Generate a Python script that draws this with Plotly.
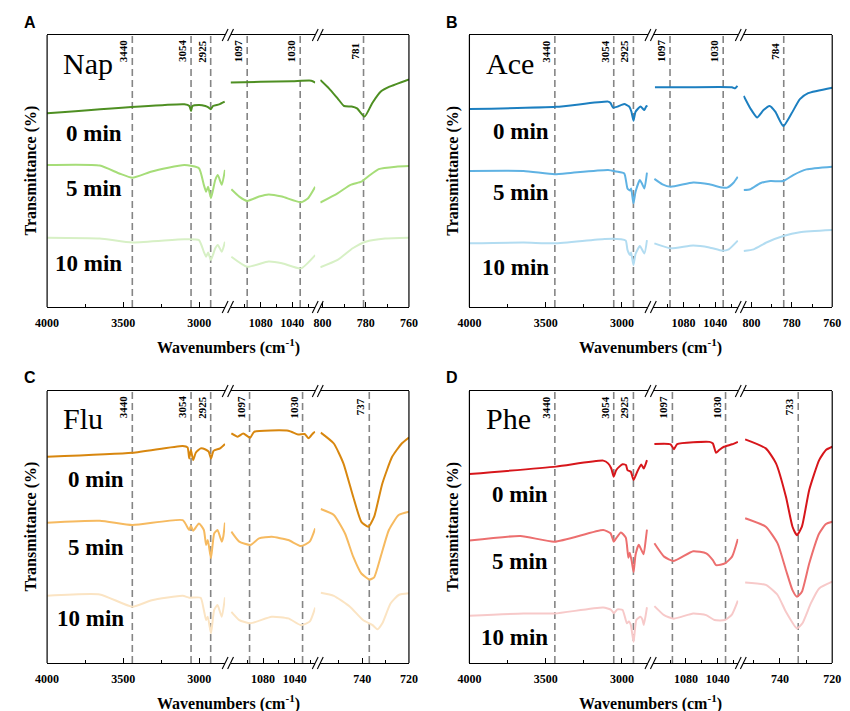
import plotly.graph_objects as go

# ---------------- FTIR spectra: wavenumber (cm-1) and offset transmittance ----------------
# Nap
NAP_WN_0 = [4000, 3098, 3065, 3054, 3045, 3000, 2960, 2940, 2925, 2910, 2870, 2833,
            1118, 1080, 1040, 1016, 1011,
            801, 797, 793, 790, 786.5, 784, 780.5, 777, 773, 769, 760]
NAP_T_0 = [71.2, 74.5, 73.9, 72.1, 73.9, 74.3, 73.9, 73.4, 72.7, 73.9, 74.5, 75.5,
           82.5, 82.8, 83.0, 83.2, 82.5,
           83.5, 80.4, 76.7, 73.9, 73.7, 73.0, 70.0, 74.9, 79.2, 81.0, 83.7]
NAP_WN_5 = [4000, 3654, 3526, 3440, 3312, 3098, 3002, 2970, 2955, 2942, 2923, 2895, 2878, 2852, 2831,
            1117, 1107, 1097, 1082, 1070, 1053, 1029, 1020, 1011,
            801, 793, 787, 782, 779, 774, 766, 760]
NAP_T_5 = [52.2, 52.0, 49.1, 47.5, 49.8, 52.2, 51.0, 44.9, 42.4, 44.2, 40.0, 46.7, 48.5, 44.9, 50.4,
           43.3, 40.6, 39.0, 40.6, 41.4, 40.6, 38.5, 40.0, 44.2,
           38.4, 41.8, 44.9, 46.1, 47.9, 50.7, 51.6, 51.8]
NAP_WN_10 = [4000, 3654, 3440, 3098, 3002, 2970, 2955, 2942, 2923, 2895, 2878, 2852, 2831,
             1117, 1097, 1070, 1053, 1029, 1011,
             801, 793, 786, 780, 771, 760]
NAP_T_10 = [25.5, 25.2, 23.7, 24.9, 24.6, 20.3, 18.5, 20.0, 17.3, 21.6, 22.8, 20.3, 24.0,
            18.5, 14.8, 16.7, 16.1, 14.2, 19.1,
            14.6, 17.3, 21.6, 24.0, 25.2, 25.5]

# Ace
ACE_WN_0 = [4000, 3432, 3091, 3075, 3059, 3027, 2985, 2953, 2938, 2925, 2911, 2879, 2853, 2840, 2834,
            1116, 1096, 1076, 1019, 1015, 1012,
            803.8, 800.5, 797.2, 794, 791, 788.2, 784.2, 780.1, 776, 771.9, 760]
ACE_T_0 = [72.8, 73.6, 75.5, 75.0, 73.3, 73.7, 74.6, 73.7, 71.8, 68.5, 71.8, 73.7, 72.4, 73.9, 73.6,
           80.8, 80.8, 80.8, 80.8, 80.4, 81.3,
           77.6, 73.0, 69.7, 72.4, 73.9, 71.8, 66.5, 71.2, 76.4, 78.6, 80.6]
ACE_WN_5 = [4000, 3645, 3442, 3325, 3091, 3038, 2985, 2964, 2947, 2940, 2925, 2911, 2883, 2870, 2853, 2836,
            1116.7, 1106.5, 1096.3, 1067.8, 1047.4, 1031, 1025, 1017, 1011.6,
            803.8, 800.5, 795.6, 790.7, 784.2, 779.3, 772.7, 760]
ACE_T_5 = [50.0, 50.0, 48.8, 49.4, 50.4, 49.8, 49.1, 43.6, 42.8, 43.6, 38.1, 42.4, 46.7, 45.5, 43.6, 49.4,
           47.1, 45.1, 44.2, 45.8, 45.1, 43.9, 43.9, 45.7, 47.9,
           43.0, 43.3, 45.5, 46.3, 46.3, 48.5, 50.6, 51.6]
ACE_WN_10 = [4000, 3645, 3442, 3113, 3006, 2975, 2964, 2947, 2940, 2925, 2911, 2883, 2853, 2836,
             1116.7, 1096.3, 1067.8, 1047.4, 1031, 1023, 1011.6,
             803.8, 798.9, 792.3, 784.2, 776, 760]
ACE_T_10 = [23.4, 23.7, 23.4, 25.0, 24.9, 24.4, 21.0, 19.1, 20.0, 15.4, 19.5, 22.4, 19.7, 24.6,
            23.4, 21.6, 22.6, 21.9, 20.7, 21.2, 24.4,
            20.6, 21.2, 23.8, 26.1, 27.5, 28.3]

# Flu
FLU_WN_0 = [4000, 3440, 3109, 3077, 3066, 3055, 3040, 3023, 2991, 2959, 2938, 2923, 2906, 2863, 2831,
            1120, 1112, 1105, 1096.2, 1091.2, 1048, 1035.6, 1027.4, 1022.4, 1017, 1014.2,
            757.8, 752.2, 748.1, 743.9, 740.4, 737.4, 734.9, 731.4, 727.2, 723.1, 720]
FLU_T_0 = [75.8, 77.3, 79.8, 79.3, 75.2, 78.3, 74.6, 77.3, 78.9, 78.5, 77.7, 75.2, 78.0, 78.9, 80.5,
           84.4, 83.2, 84.4, 82.8, 85.0, 85.4, 84.0, 84.2, 82.6, 84.4, 85.0,
           84.7, 80.7, 73.4, 61.1, 51.9, 50.1, 53.8, 66.0, 75.8, 80.7, 82.9]
FLU_WN_5 = [4000, 3654, 3440, 3109, 3066, 3055, 3040, 3002, 2970, 2955, 2944, 2923, 2902, 2880, 2852, 2842, 2831,
            1120, 1110, 1096, 1085, 1069, 1048, 1032, 1021, 1014,
            757.8, 752.2, 747.4, 743.9, 740.4, 736.9, 734.9, 732.1, 728.6, 724.4, 720]
FLU_T_5 = [51.6, 52.3, 50.7, 52.5, 48.9, 50.5, 48.6, 51.3, 48.9, 43.4, 45.2, 38.5, 47.6, 48.9, 44.6, 46.5, 51.6,
           48.3, 44.6, 43.4, 45.8, 46.4, 45.2, 43.0, 44.6, 49.5,
           56.6, 54.4, 47.6, 39.1, 32.9, 30.7, 31.5, 39.1, 48.9, 54.4, 55.6]
FLU_WN_10 = [4000, 3654, 3440, 3312, 3109, 3066, 2991, 2970, 2955, 2944, 2923, 2902, 2880, 2852, 2831,
             1120, 1110, 1096, 1069, 1048, 1032, 1021, 1014,
             757.8, 752.2, 745.3, 739.7, 735.6, 733.5, 731.4, 727.9, 724.4, 720]
FLU_T_10 = [24.7, 25.2, 20.7, 23.1, 24.7, 24.0, 24.0, 19.5, 15.8, 17.0, 10.9, 19.5, 21.3, 17.0, 24.1,
            18.8, 15.8, 14.6, 17.0, 16.4, 13.9, 15.2, 20.4,
            25.8, 24.7, 20.7, 15.8, 13.9, 12.4, 14.6, 21.9, 25.0, 25.6]

# Phe
PHE_WN_0 = [4000, 3432, 3123, 3091, 3070, 3054, 3038, 3017, 2996, 2974, 2964, 2942, 2924, 2900, 2874, 2857, 2836,
            1119.7, 1099.3, 1095, 1091, 1050.4, 1046, 1042, 1038, 1032, 1021.8, 1014.5,
            753.3, 745.4, 741.5, 737.7, 735.2, 733.5, 731.6, 728.8, 725, 722.4, 720]
PHE_T_0 = [69.5, 72.2, 74.4, 73.4, 71.5, 68.5, 70.9, 72.2, 73.1, 72.8, 70.9, 70.3, 67.3, 70.3, 73.0, 71.5, 74.6,
           80.5, 80.4, 78.6, 80.5, 81.3, 80.7, 77.3, 78.3, 79.5, 80.4, 81.3,
           82.2, 78.9, 73.4, 61.1, 50.1, 47.0, 50.1, 63.6, 74.6, 78.3, 79.5]
PHE_WN_5 = [4000, 3666, 3442, 3123, 3075, 3054, 3040, 3007, 2975, 2958, 2949, 2936, 2924, 2911, 2890, 2873, 2858, 2843, 2836,
            1119.7, 1107.5, 1095.2, 1070.8, 1054.4, 1046, 1042, 1030.8, 1021.8, 1014.5,
            753.3, 745.4, 740.9, 737.7, 735.2, 733.5, 731.6, 728.8, 725, 722.4, 720]
PHE_T_5 = [45.0, 46.7, 44.6, 48.9, 47.7, 44.6, 45.7, 48.0, 46.1, 38.7, 40.5, 37.4, 33.4, 39.8, 43.5, 41.6, 40.0, 45.9, 49.0,
           44.0, 39.1, 37.5, 41.1, 40.3, 37.8, 36.0, 36.6, 39.1, 45.6,
           53.2, 50.1, 44.0, 34.2, 26.8, 24.4, 26.2, 36.6, 47.6, 51.1, 51.9]
PHE_WN_10 = [4000, 3645, 3442, 3123, 3070, 3054, 3030, 2996, 2968, 2955, 2942, 2924, 2906, 2879, 2866, 2857, 2836,
             1119.7, 1107.5, 1095.2, 1070.8, 1054.4, 1044, 1030.8, 1021.8, 1014.5,
             753.3, 745.4, 740.9, 737.7, 733.5, 731.4, 728.2, 725, 720]
PHE_T_10 = [17.4, 18.2, 18.2, 20.4, 19.5, 18.3, 19.7, 19.5, 14.6, 15.3, 14.0, 7.8, 15.8, 17.0, 16.0, 14.0, 20.5,
            20.9, 17.6, 16.3, 18.2, 17.6, 15.8, 15.8, 17.9, 22.9,
            29.6, 28.7, 25.0, 18.8, 12.7, 14.6, 21.9, 27.4, 29.9]

TIME_LABELS = ["0 min", "5 min", "10 min"]
SAMPLES = ["Nap", "Ace", "Flu", "Phe"]
PANEL_LETTERS = ["A", "B", "C", "D"]
MARKS = [[3440, 3054, 2925, 1097, 1030, 781],
         [3440, 3054, 2925, 1097, 1030, 784],
         [3440, 3054, 2925, 1097, 1030, 737],
         [3440, 3054, 2925, 1097, 1030, 733]]

# ---------------- figure layout ----------------
W, H = 850, 711
SERIF = "Liberation Serif"


def fx(px):
    return px / W


def fy(py):
    return 1 - py / H


SEG_FRAC = [(0.0, 0.492), (0.507, 0.741), (0.755, 1.0)]

panels = [
    dict(box=(36, 407, 35, 307),
         ranges=[[4000, 2830], [1118, 1011], [801, 760]],
         ticks3=([800, 780, 760], [790, 770]),
         curves=[(NAP_WN_0, NAP_T_0), (NAP_WN_5, NAP_T_5), (NAP_WN_10, NAP_T_10)],
         colors=["#4e8f22", "#a6dd78", "#d7f0c5"],
         min_y=[133, 189, 263], min_x=115, name_pos=(50, 63)),
    dict(box=(469, 841, 35, 307),
         ranges=[[4000, 2830], [1118, 1011], [804, 760]],
         ticks3=([800, 780, 760], [790, 770]),
         curves=[(ACE_WN_0, ACE_T_0), (ACE_WN_5, ACE_T_5), (ACE_WN_10, ACE_T_10)],
         colors=["#1c7fc0", "#5fb2e3", "#b2dcf1"],
         min_y=[132, 193, 267], min_x=553, name_pos=(484, 63)),
    dict(box=(36, 407, 391, 663),
         ranges=[[4000, 2830], [1121, 1014], [758, 720]],
         ticks3=([740, 720], [750, 730]),
         curves=[(FLU_WN_0, FLU_T_0), (FLU_WN_5, FLU_T_5), (FLU_WN_10, FLU_T_10)],
         colors=["#d8870f", "#f6ba60", "#fbe4c3"],
         min_y=[479, 547, 618], min_x=117, name_pos=(50, 418)),
    dict(box=(469, 841, 391, 663),
         ranges=[[4000, 2830], [1121, 1014], [754, 720]],
         ticks3=([740, 720], [750, 730]),
         curves=[(PHE_WN_0, PHE_T_0), (PHE_WN_5, PHE_T_5), (PHE_WN_10, PHE_T_10)],
         colors=["#d7161b", "#ec6f6f", "#f7c9c9"],
         min_y=[494, 561, 637], min_x=552, name_pos=(484, 418)),
]

SEG_TICKS = [([4000, 3500, 3000], [3750, 3250]),
             ([1080, 1040], [1100, 1060, 1020]),
             None]


def seg_index(wn):
    if wn >= 2000:
        return 0
    if wn >= 900:
        return 1
    return 2


fig = go.Figure()
layout = dict(width=W, height=H, margin=dict(l=0, r=0, t=0, b=0), autosize=False,
              paper_bgcolor="white", plot_bgcolor="rgba(0,0,0,0)", showlegend=False)
shapes, annotations = [], []
axis_line = dict(color="black", width=1.2)

for i, p in enumerate(panels):
    left, right, top, bottom = p["box"]
    width = right - left
    yname = "y" if i == 0 else f"y{i + 1}"
    ykey = "yaxis" if i == 0 else f"yaxis{i + 1}"
    xnames = []
    for j in range(3):
        k = i * 3 + j + 1
        xname = "x" if k == 1 else f"x{k}"
        xkey = "xaxis" if k == 1 else f"xaxis{k}"
        xnames.append(xname)
        major, minor = SEG_TICKS[j] if SEG_TICKS[j] else p["ticks3"]
        f0, f1 = SEG_FRAC[j]
        layout[xkey] = dict(
            domain=[fx(left + f0 * width), fx(left + f1 * width)],
            range=p["ranges"][j], anchor=yname,
            showline=True, mirror=True, linecolor="black", linewidth=1.2,
            showgrid=False, zeroline=False,
            ticks="inside", ticklen=5, tickwidth=1.1, tickcolor="black",
            tickmode="array", tickvals=major, ticktext=[f"<b>{v}</b>" for v in major],
            ticklabelstandoff=4,
            tickfont=dict(family=SERIF, size=12, color="black"),
            minor=dict(tickmode="array", tickvals=minor, ticks="inside", ticklen=3,
                       tickwidth=1, tickcolor="black", showgrid=False),
        )
    layout[ykey] = dict(domain=[fy(bottom), fy(top)], range=[0, 100], anchor=xnames[0],
                        visible=False, fixedrange=True)

    # spectra, split into the three axis segments
    for (wn, tr), color in zip(p["curves"], p["colors"]):
        for j in range(3):
            xs = [w for w in wn if seg_index(w) == j]
            ys = [t for w, t in zip(wn, tr) if seg_index(w) == j]
            fig.add_trace(go.Scatter(
                x=xs, y=ys, mode="lines", xaxis=xnames[j], yaxis=yname,
                line=dict(color=color, width=2, shape="spline", smoothing=0.5),
                hoverinfo="skip"))

    # marker lines with rotated wavenumber labels
    for m in MARKS[i]:
        xr = xnames[seg_index(m)]
        shapes.append(dict(type="line", xref=xr, yref=f"{yname} domain",
                           x0=m, x1=m, y0=0, y1=1, layer="below",
                           line=dict(color="#858585", width=1.6, dash="7px,4px")))
        annotations.append(dict(text=f"<b>{m}</b>", xref=xr, x=m, yref="paper", y=fy(top + 16),
                                xshift=-9, textangle=-90, showarrow=False,
                                xanchor="center", yanchor="middle",
                                font=dict(family=SERIF, size=11, color="black")))

    # left and right frame
    for xe in (left, right):
        shapes.append(dict(type="line", xref="paper", yref="paper",
                           x0=fx(xe), x1=fx(xe), y0=fy(bottom), y1=fy(top), line=axis_line))
    # axis-break marks
    for j in range(2):
        for xb in (left + SEG_FRAC[j][1] * width, left + SEG_FRAC[j + 1][0] * width):
            for yb in (top, bottom):
                shapes.append(dict(type="line", xref="paper", yref="paper",
                                   x0=fx(xb - 3), x1=fx(xb + 3), y0=fy(yb + 6), y1=fy(yb - 6),
                                   line=dict(color="black", width=1.1)))

    # texts
    annotations.append(dict(text=f"<b>{PANEL_LETTERS[i]}</b>", xref="paper", yref="paper",
                            x=fx(left - 18), y=fy(top - 13), showarrow=False,
                            xanchor="center", yanchor="middle",
                            font=dict(family="Liberation Sans", size=16, color="black")))
    annotations.append(dict(text=SAMPLES[i], xref="paper", yref="paper",
                            x=fx(p["name_pos"][0]), y=fy(p["name_pos"][1]), showarrow=False,
                            xanchor="left", yanchor="middle",
                            font=dict(family=SERIF, size=30, color="black")))
    for lab, yy in zip(TIME_LABELS, p["min_y"]):
        annotations.append(dict(text=f"<b>{lab}</b>", xref="paper", yref="paper",
                                x=fx(p["min_x"]), y=fy(yy), showarrow=False,
                                xanchor="right", yanchor="middle",
                                font=dict(family=SERIF, size=23, color="black")))
    annotations.append(dict(text="<b>Transmittance (%)</b>", xref="paper", yref="paper",
                            x=fx(left - 17), y=fy((top + bottom) / 2), textangle=-90,
                            showarrow=False, xanchor="center", yanchor="middle",
                            font=dict(family=SERIF, size=16, color="black")))
    annotations.append(dict(text="<b>Wavenumbers (cm<sup>-1</sup>)</b>", xref="paper", yref="paper",
                            x=fx((left + right) / 2), y=fy(bottom + 39), showarrow=False,
                            xanchor="center", yanchor="middle",
                            font=dict(family=SERIF, size=16, color="black")))

layout["shapes"] = shapes
layout["annotations"] = annotations
fig.update_layout(**layout)
fig.write_html("out.html")
